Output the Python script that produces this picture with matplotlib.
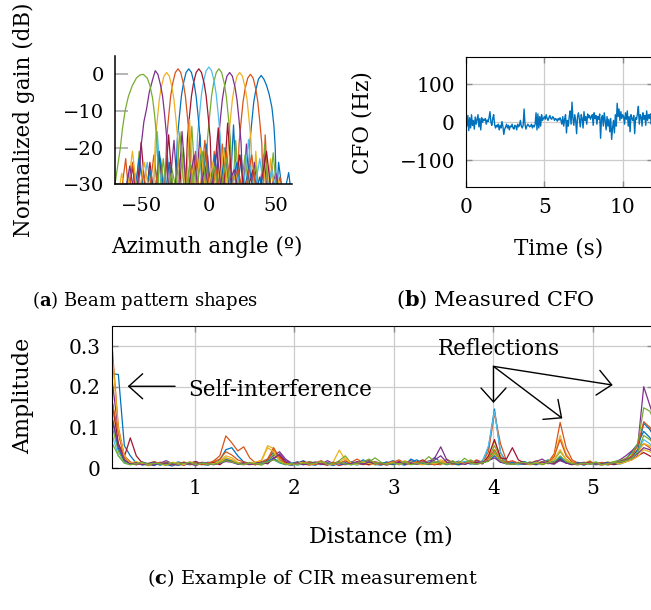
import matplotlib.pyplot as plt
import numpy as np

W, H = 651, 610

plt.rcParams['font.family'] = ['DejaVu Serif']
plt.rcParams['mathtext.fontset'] = 'dejavuserif'

# MATLAB default line colours
palette = ['#0072BD', '#D95319', '#EDB120', '#7E2F8E', '#77AC30', '#4DBEEE', '#A2142F']

# (a) beam patterns in dB, right-most beam first
beam_angles = [
    [5, 8, 10.5, 13, 15.5, 18.4, 21, 24, 27, 29.5, 30.5, 32, 33.5, 35, 37, 39, 41, 43, 45, 47, 48.5, 49.5, 50.5, 52, 55.5, 59.5, 62],
    [-5, -2, 1, 4, 7, 10, 13, 16, 19, 21, 22.5, 24, 25.5, 27, 29, 31, 33, 35, 36.5, 38, 39.5, 40.5, 42, 44.5, 47, 49.5, 53, 56],
    [-12, -9, -6, -3, 0, 3, 6, 8.5, 11, 13, 14.5, 16, 17.5, 19, 21, 23, 25, 27, 28.5, 30, 31.5, 33, 35, 37.5, 40.5, 43.5, 46, 49, 52, 54],
    [-16, -13, -10, -6.7, -4, -1, 2, 5.5, 7, 8.5, 10, 11.5, 13.5, 15.5, 17.5, 19.5, 21, 22.5, 24, 25.5, 28, 31, 34, 37, 41, 44, 50, 53],
    [-55, -52, -48, -44, -40, -36, -32, -28, -23, -19, -16, -12.7, -9.5, -6.5, -4, -2.5, -1, 0.5, 2, 3.5, 5.5, 7.5, 9.5, 11.5, 13, 14.5, 16, 17.5, 20, 23, 27, 30.5, 35, 38.5, 41.6, 44.5, 48, 51],
    [-59, -55, -50, -46, -42, -38.5, -35, -31, -27, -23, -19, -15, -12, -10, -8.5, -7, -5.5, -4, -2, 0, 2, 4, 5.5, 7, 8.5, 10, 13, 16, 20, 25, 29.6, 33, 38, 42, 47, 51],
    [-60, -57, -54, -50.5, -47, -44, -40.5, -37, -33.5, -30, -26.5, -22.5, -19.5, -17.5, -16, -14.5, -13, -11.5, -9.5, -7.5, -5.5, -3.5, -2, -0.5, 1, 2.5, 7, 10.5, 14, 18, 23, 27, 33, 37, 43, 47],
    [-63, -60, -56, -52, -48, -44, -40.5, -37, -33, -29.5, -27, -25, -23.5, -22, -20.5, -19, -17, -15, -13, -11, -9.5, -8, -6.5, -5, -2, 1, 4.5, 8, 12, 16, 21, 25, 30, 34, 38, 41],
    [-66, -62, -59.5, -57, -53, -49, -45, -41, -37.5, -33, -31.5, -30, -28.5, -27, -25, -23, -21, -19, -17.5, -16, -14.5, -13, -10, -7, -3, 1, 5, 9, 13, 17, 22, 26, 32, 36],
    [-68, -65, -61.5, -57, -53, -48, -44, -41.5, -40, -38.5, -37, -35.5, -33.5, -31.5, -29.5, -27.5, -26, -24.5, -23, -21.5, -19, -17, -14.4, -11, -6, -2, 3, 7, 11, 15, 20, 24],
    [-63, -59, -55, -53, -50.5, -48.5, -46.5, -44.5, -42, -40, -38, -36, -34.5, -33, -31.5, -30, -26, -23, -20, -16.5, -11, -7.5, -3, 1, 6, 10, 19, 23],
    [-72, -70, -68, -66, -64.5, -62.5, -60, -57, -54, -51.5, -49, -46, -44, -42, -40.5, -39, -38, -37, -34, -31, -28, -25, -21.6, -18, -14, -10, -5, -1, 4, 8, 13, 17],
]
beam_gains = [
    [-34, -27, -34, -24, -34, -13.8, -34, -22, -34, -28, -19, -13, -7.5, -4.3, -1.3, -0.3, -1.3, -3, -5.5, -9, -14, -20, -34, -24, -34, -26.8, -34],
    [-34, -27, -34, -21, -34, -19, -34, -23, -34, -34, -19, -13, -7.5, -4, -1, 0, -1, -4, -7.5, -13, -19, -34, -16.5, -34, -25, -34, -28, -34],
    [-34, -26, -34, -21, -34, -24, -34, -18, -34, -34, -18.5, -12.5, -7, -3.5, -0.5, 0.5, -0.5, -3.5, -7, -12.5, -18.5, -34, -21, -34, -24, -34, -23, -34, -29, -34],
    [-34, -25, -34, -16.5, -34, -22, -34, -34, -18.5, -12.5, -7, -3.5, -0.5, 0.5, -0.5, -3.5, -7, -12.5, -18.5, -34, -19, -34, -24, -34, -22, -34, -27, -34],
    [-34, -21, -34, -27, -34, -23, -34, -25, -34, -20, -34, -14.2, -34, -21, -34, -34, -17.5, -11.5, -6, -2.5, 0.5, 1.5, 0.5, -2.5, -6, -11.5, -17.5, -34, -18, -34, -22, -34, -25, -34, -19.2, -34, -21.4, -34],
    [-34, -27, -34, -24, -34, -15.6, -34, -22, -34, -26, -34, -20, -34, -34, -17, -11, -5.5, -2, 1, 2, 1, -2, -5.5, -11, -17, -34, -21, -34, -24, -34, -17.8, -34, -23, -34, -26, -34],
    [-34, -25, -34, -18.5, -34, -24, -34, -22, -34, -16.5, -34, -23, -34, -34, -17.5, -11.5, -6, -2.5, 0.5, 1.5, 0.5, -2.5, -6, -11.5, -17.5, -34, -14.6, -34, -13.3, -34, -22, -34, -26, -34, -21, -34],
    [-34, -27, -34, -23, -34, -26, -34, -21, -34, -24, -34, -34, -17.5, -11.5, -6, -2.5, 0.5, 1.5, 0.5, -2.5, -6, -11.5, -17.5, -34, -19, -34, -22, -34, -20, -34, -24, -34, -25, -34, -28, -34],
    [-34, -23, -34, -24, -34, -27, -34, -22, -34, -34, -17.5, -11.5, -6, -2.5, 0.5, 1.5, 0.5, -2.5, -6, -11.5, -17.5, -34, -21, -34, -18, -34, -25, -34, -21, -34, -26, -34, -22, -34],
    [-34, -27, -34, -21, -34, -24, -34, -34, -18.5, -12.5, -7, -3.5, -0.5, 0.5, -0.5, -3.5, -7, -12.5, -18.5, -34, -23, -34, -12.4, -34, -20, -34, -24, -34, -20, -34, -27, -34],
    [-34, -25, -34, -34, -19.5, -13, -9.5, -5, -1.5, 1, 0, -3, -6, -11, -17, -34, -18, -34, -15.6, -34, -22, -34, -25, -34, -21, -34, -26, -34],
    [-34, -30, -25, -20, -15, -10, -6, -3, -1, -0.2, 0, -1, -3, -6.5, -11, -17, -24, -34, -23, -34, -27, -34, -15.7, -34, -24, -34, -21, -34, -25, -34, -23, -34],
]

# (b) measured CFO in Hz, 17 samples per second
cfo_step = 1 / 17
cfo_hz = [
    15, -10, 18, -22, 12, -15, 20, -8, 5, -18, 14, -5, 8, 20, -12, 10, -20,
    12, 0, 8, 5, 10, -5, 6, 2, 12, 28, 0, -8, 10, 20, -5, -15, -8,
    -12, -5, -20, -8, -15, 2, -10, -32, -18, -12, -5, -15, -8, -20, -10, -12, -5,
    -15, -18, -8, -10, -20, -5, -12, -8, 5, -10, -15, -8, 35, -5, -18, -10, -5,
    -8, -12, -10, -5, -15, -8, -12, -5, 25, -20, 22, -15, 15, -10, 20, 5, 10,
    15, 8, 20, 10, 5, 12, 18, 10, 8, 15, 12, 5, 10, 8, 3, 10, 6,
    12, 5, -5, 15, -10, 8, 20, -28, 5, -10, 15, 30, -5, 53, 10, -8, 20,
    5, -30, 15, 25, 8, -12, 20, 10, -15, 28, 5, 15, -5, 22, 12, 18, 8,
    15, 20, -8, 25, 10, 18, -5, 15, 8, 22, -42, 10, 18, -10, 25, 5, -20,
    15, -10, 8, -25, 10, -45, -15, 5, -28, 20, -10, 50, 15, 35, 5, 28, 10,
    20, 15, -5, 25, 8, 30, -10, 15, -25, 20, 10, 5, 18, -30, 12, 8, 22,
    42, -5, 20, 15, -10, 25, 8, 18, -8, 30, 5, 20, 10, 22, -5, 15, 10,
]

# (c) CIR amplitude in units of 1e-3, one value every 6 cm from 0.17 m
cir_start = 0.17
cir_step = 0.06
cir_milli = [
    [232, 230, 55, 30, 12, 8, 10, 6, 14, 9, 5, 11, 8, 12, 15, 9, 7, 12, 20, 45, 50, 30, 15,
     12, 8, 15, 22, 38, 20, 10, 6, 12, 18, 9, 7, 14, 10, 6, 12, 16, 8, 11, 20, 14, 9, 7,
     12, 18, 10, 7, 22, 15, 9, 12, 26, 14, 8, 11, 17, 9, 14, 10, 18, 50, 145, 38, 15, 9, 12,
     16, 10, 8, 14, 20, 12, 28, 15, 9, 11, 7, 13, 10, 8, 12, 9, 14, 22, 40, 60, 90, 75, 50],
    [290, 100, 30, 15, 8, 12, 6, 10, 14, 8, 12, 7, 10, 15, 9, 13, 8, 18, 30, 79, 62, 42, 52,
     25, 12, 9, 20, 45, 28, 12, 8, 15, 10, 7, 13, 18, 9, 12, 6, 10, 14, 22, 12, 8, 16, 10,
     7, 14, 20, 12, 9, 15, 11, 18, 10, 8, 22, 13, 9, 15, 12, 20, 14, 40, 135, 60, 18, 10, 14,
     9, 12, 18, 8, 14, 35, 112, 50, 20, 12, 8, 15, 10, 7, 12, 9, 16, 20, 28, 45, 60, 50, 35],
    [150, 60, 22, 10, 14, 8, 12, 16, 9, 7, 13, 10, 15, 8, 11, 14, 9, 12, 18, 30, 25, 14, 10,
     8, 13, 20, 55, 48, 18, 10, 14, 8, 12, 16, 9, 11, 7, 15, 44, 20, 10, 8, 13, 18, 11, 9,
     14, 10, 12, 18, 9, 16, 11, 8, 13, 20, 15, 10, 7, 12, 18, 11, 15, 28, 65, 30, 12, 9, 14,
     11, 8, 13, 16, 10, 30, 80, 35, 14, 9, 12, 18, 8, 11, 15, 10, 13, 18, 25, 38, 60, 55, 40],
    [210, 90, 28, 12, 9, 15, 10, 7, 12, 18, 11, 8, 14, 10, 6, 12, 9, 15, 11, 22, 18, 10, 8,
     12, 9, 14, 18, 30, 40, 22, 12, 8, 15, 10, 13, 9, 18, 11, 7, 14, 10, 16, 12, 20, 9, 13,
     10, 15, 8, 12, 18, 11, 9, 16, 25, 52, 20, 12, 9, 14, 10, 18, 12, 20, 35, 18, 12, 15, 9,
     13, 10, 16, 22, 12, 9, 20, 14, 10, 8, 12, 15, 9, 13, 10, 14, 20, 30, 42, 55, 200, 155, 110],
    [100, 40, 15, 8, 12, 10, 6, 13, 9, 15, 11, 7, 12, 9, 14, 10, 8, 12, 16, 25, 20, 12, 9,
     14, 10, 7, 15, 35, 18, 11, 9, 13, 8, 16, 12, 10, 14, 9, 18, 30, 12, 8, 11, 15, 25, 14,
     10, 8, 13, 16, 11, 9, 14, 28, 15, 10, 12, 18, 9, 13, 20, 12, 16, 24, 55, 25, 14, 10, 8,
     12, 15, 9, 14, 18, 20, 40, 22, 11, 8, 13, 10, 15, 9, 12, 16, 18, 24, 35, 60, 148, 140, 110],
    [80, 30, 12, 9, 14, 7, 11, 15, 8, 12, 10, 6, 13, 9, 11, 8, 14, 10, 12, 18, 15, 9, 12,
     8, 14, 11, 16, 20, 12, 9, 13, 7, 11, 15, 10, 8, 12, 14, 9, 16, 11, 7, 13, 10, 15, 12,
     9, 13, 11, 8, 15, 10, 12, 17, 9, 14, 11, 8, 13, 16, 10, 12, 15, 55, 140, 40, 10, 13, 9,
     11, 14, 8, 12, 16, 10, 24, 13, 9, 12, 8, 11, 14, 10, 7, 12, 9, 15, 22, 40, 70, 60, 42],
    [160, 60, 28, 74, 30, 12, 9, 15, 11, 8, 13, 10, 7, 12, 16, 9, 11, 14, 8, 20, 16, 10, 13,
     9, 12, 15, 10, 25, 32, 14, 9, 11, 16, 8, 13, 10, 7, 12, 15, 9, 11, 14, 10, 8, 12, 9,
     13, 10, 16, 9, 12, 14, 20, 11, 8, 13, 10, 15, 9, 12, 11, 14, 10, 30, 70, 25, 22, 50, 20,
     12, 9, 14, 10, 16, 11, 22, 13, 8, 12, 10, 14, 9, 11, 13, 8, 12, 16, 20, 30, 38, 30, 22],
    [120, 48, 18, 11, 8, 14, 10, 12, 7, 13, 9, 15, 11, 8, 12, 10, 14, 9, 13, 22, 18, 12, 10,
     13, 9, 12, 16, 24, 14, 8, 11, 15, 9, 12, 10, 14, 8, 13, 11, 9, 15, 12, 10, 14, 8, 11,
     15, 9, 12, 10, 14, 20, 11, 9, 13, 16, 10, 12, 8, 14, 11, 9, 13, 18, 30, 15, 10, 13, 11,
     9, 12, 15, 10, 13, 16, 25, 12, 10, 14, 9, 12, 8, 11, 14, 10, 13, 18, 26, 45, 110, 95, 70],
    [160, 85, 25, 14, 9, 12, 8, 15, 10, 13, 7, 11, 14, 9, 12, 8, 13, 16, 22, 40, 32, 20, 15,
     10, 8, 14, 22, 50, 25, 11, 9, 13, 10, 15, 8, 12, 9, 14, 11, 18, 10, 13, 8, 12, 15, 9,
     12, 16, 10, 14, 9, 13, 18, 11, 8, 15, 12, 9, 14, 11, 16, 10, 13, 22, 45, 20, 14, 18, 12,
     10, 13, 9, 15, 12, 28, 70, 30, 15, 11, 9, 13, 10, 14, 8, 12, 15, 20, 30, 55, 114, 100, 75],
    [275, 95, 30, 12, 16, 10, 8, 13, 11, 9, 14, 12, 8, 15, 10, 13, 9, 11, 15, 24, 20, 13, 9,
     12, 15, 18, 50, 40, 16, 10, 8, 12, 14, 9, 11, 15, 10, 8, 13, 25, 12, 9, 14, 11, 8, 12,
     10, 14, 9, 12, 15, 11, 8, 13, 10, 16, 12, 9, 15, 11, 13, 10, 14, 20, 35, 18, 11, 9, 13,
     12, 9, 14, 11, 13, 22, 45, 20, 12, 10, 14, 9, 12, 8, 11, 13, 10, 15, 20, 28, 45, 40, 30],
    [120, 55, 20, 10, 13, 8, 11, 14, 9, 12, 10, 7, 13, 11, 9, 14, 10, 8, 12, 16, 14, 10, 12,
     9, 11, 14, 12, 22, 35, 18, 10, 13, 8, 11, 15, 9, 12, 10, 14, 8, 11, 13, 9, 15, 10, 12,
     8, 11, 14, 10, 13, 9, 15, 12, 20, 30, 14, 10, 12, 9, 13, 11, 15, 18, 25, 14, 12, 9, 13,
     10, 12, 9, 15, 11, 13, 18, 12, 9, 11, 14, 10, 12, 9, 13, 11, 16, 20, 25, 35, 50, 45, 35],
    [60, 30, 12, 8, 11, 14, 9, 12, 10, 7, 13, 9, 11, 14, 8, 12, 10, 9, 13, 18, 15, 11, 9,
     13, 10, 12, 15, 20, 14, 9, 11, 8, 13, 10, 12, 16, 9, 11, 14, 10, 8, 12, 15, 22, 11, 13,
     9, 12, 10, 14, 8, 11, 13, 10, 15, 12, 9, 14, 11, 24, 12, 10, 13, 16, 40, 18, 11, 9, 12,
     14, 10, 12, 9, 13, 15, 30, 16, 11, 9, 12, 10, 14, 8, 11, 13, 15, 18, 24, 40, 80, 70, 55],
]


def px_axes(fig, left, top, right, bottom):
    return fig.add_axes([left / W, 1 - bottom / H, (right - left) / W, (bottom - top) / H])


def px_text(fig, x, y, s, **kw):
    kw.setdefault('ha', 'center')
    kw.setdefault('va', 'center')
    return fig.text(x / W, 1 - y / H, s, **kw)


fig = plt.figure(figsize=(W / 100, H / 100), dpi=100)

# ---- (a) beam pattern shapes
ax_a = px_axes(fig, 115, 56, 292, 184.3)
for i in range(len(beam_angles)):
    ax_a.plot(beam_angles[i], beam_gains[i], color=palette[i % 7], lw=0.9)
ax_a.set_xlim(-70, 62)
ax_a.set_ylim(-30, 5)
ax_a.set_xticks([-50, 0, 50])
ax_a.set_yticks([0, -10, -20, -30])
ax_a.spines['top'].set_visible(False)
ax_a.spines['right'].set_visible(False)
for s in ('left', 'bottom'):
    ax_a.spines[s].set_linewidth(1.1)
ax_a.tick_params(axis='y', direction='in', length=9.5, width=1.2, color='#a8a8a8',
                 labelsize=14, pad=8)
ax_a.tick_params(axis='x', length=0, labelsize=14, pad=9)
px_text(fig, 24, 120, 'Normalized gain (dB)', rotation=90, fontsize=15.5)
px_text(fig, 207, 247, 'Azimuth angle (º)', fontsize=15.5)
px_text(fig, 145, 300, r'($\mathbf{a}$) Beam pattern shapes', fontsize=13)

# ---- (b) measured CFO
ax_b = px_axes(fig, 466, 57.3, 653, 187.3)
cfo_t = np.arange(len(cfo_hz)) * cfo_step
ax_b.plot(cfo_t, cfo_hz, color=palette[0], lw=1.0)
ax_b.set_xlim(0, 187 / 15.67)
ax_b.set_ylim(-171, 171)
ax_b.set_xticks([0, 5, 10])
ax_b.set_yticks([-100, 0, 100])
ax_b.grid(True, color='#cccccc', lw=0.9)
ax_b.set_axisbelow(True)
ax_b.tick_params(direction='in', length=4.5, width=1, color='#8c8c8c',
                 top=True, right=True, labelsize=14.5, pad=8)
px_text(fig, 363, 123, 'CFO (Hz)', rotation=90, fontsize=15.5)
px_text(fig, 559, 248, 'Time (s)', fontsize=15.5)
px_text(fig, 495, 300, r'($\mathbf{b}$) Measured CFO', fontsize=15)

# ---- (c) CIR measurement
ax_c = px_axes(fig, 112, 325.7, 653, 468)
for i, series in enumerate(cir_milli):
    d = cir_start + cir_step * np.arange(len(series))
    ax_c.plot(d, np.array(series) / 1000, color=palette[i % 7], lw=0.9)
ax_c.set_xlim(0.166, 0.166 + 541 / 99.5)
ax_c.set_ylim(0, 0.35)
ax_c.set_xticks([1, 2, 3, 4, 5])
ax_c.set_yticks([0, 0.1, 0.2, 0.3])
ax_c.set_yticklabels(['0', '0.1', '0.2', '0.3'])
ax_c.grid(True, color='#cccccc', lw=0.9)
ax_c.set_axisbelow(True)
ax_c.tick_params(direction='in', length=4.5, width=1, color='#8c8c8c',
                 top=True, right=True, labelsize=14.5, pad=8)

arrow = dict(arrowstyle='->,head_length=0.5,head_width=0.45', color='black',
             lw=1.0, shrinkA=0, shrinkB=0, mutation_scale=20)
ax_c.annotate('', xy=(0.324, 0.201), xytext=(0.80, 0.201), arrowprops=arrow)
ax_c.text(0.93, 0.177, 'Self-interference', ha='left', va='baseline', fontsize=15.5)
ax_c.text(4.056, 0.278, 'Reflections', ha='center', va='baseline', fontsize=15.5)
for head in [(4.0, 0.16), (4.692, 0.122), (5.198, 0.204)]:
    ax_c.annotate('', xy=head, xytext=(4.0, 0.25), arrowprops=arrow)

px_text(fig, 23, 396, 'Amplitude', rotation=90, fontsize=16)
px_text(fig, 381, 536, 'Distance (m)', fontsize=16)
px_text(fig, 313, 578, r'($\mathbf{c}$) Example of CIR measurement', fontsize=14)

fig.savefig('out.png', dpi=100)
